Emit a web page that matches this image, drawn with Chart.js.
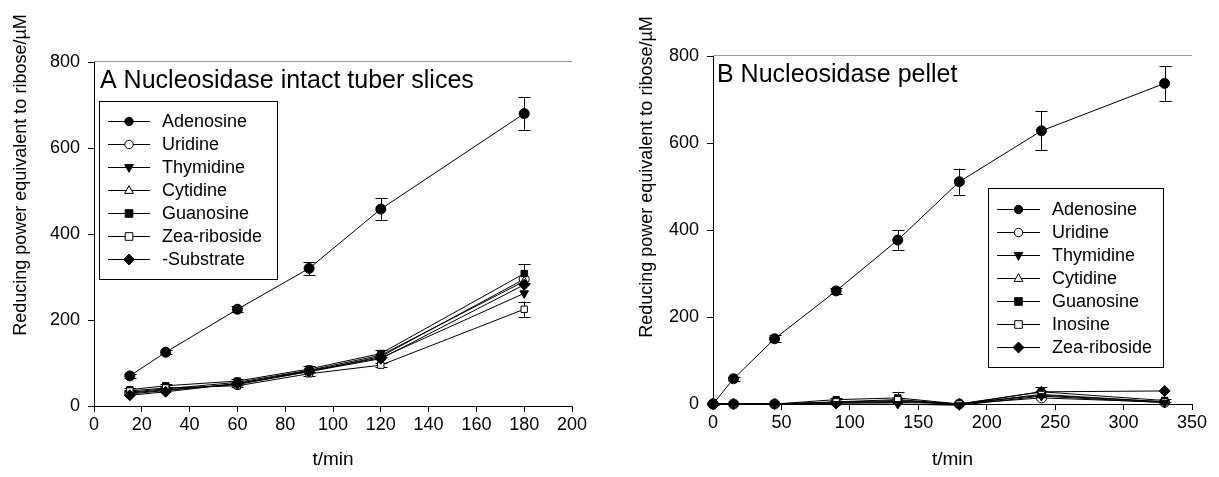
<!DOCTYPE html>
<html>
<head>
<meta charset="utf-8">
<script src="https://cdn.jsdelivr.net/npm/chart.js@4.4.0/dist/chart.umd.min.js"></script>
<style>
  html, body { margin: 0; padding: 0; background: #fff; }
  #wrap { position: relative; width: 1219px; height: 477px; }
  #izq { position: absolute; left: 0; top: 0; }
  #der { position: absolute; left: 600px; top: 0; }
</style>
</head>
<body>
<div id="wrap">
  <canvas id="izq" width="600" height="477"></canvas>
  <canvas id="der" width="619" height="477"></canvas>
</div>
<script>
// ---- Panel A: intact tuber slices ----
const tiemposA = [15, 30, 60, 90, 120, 180];
const etiquetasA = ['Adenosine', 'Uridine', 'Thymidine', 'Cytidine', 'Guanosine', 'Zea-riboside', '-Substrate'];
const adenosinaA = [70, 125, 225, 320, 458, 680];
const adenosinaErrA = [5, 5, 7, 15, 25, 38];
const uridinaA = [30, 38, 50, 80, 115, 295];
const timidinaA = [28, 36, 52, 82, 112, 262];
const citidinaA = [32, 40, 55, 83, 118, 290];
const guanosinaA = [38, 47, 58, 86, 122, 308];
const guanosinaErrA = [4, 4, 4, 6, 8, 22];
const zeaA = [35, 42, 47, 75, 95, 225];
const zeaErrA = [3, 3, 3, 5, 5, 18];
const sinSustratoA = [25, 33, 52, 80, 110, 282];
const ticksXA = [0, 20, 40, 60, 80, 100, 120, 140, 160, 180, 200];
const ticksYA = [0, 200, 400, 600, 800];

// ---- Panel B: pellet ----
const tiemposB = [0, 15, 45, 90, 135, 180, 240, 330];
const etiquetasB = ['Adenosine', 'Uridine', 'Thymidine', 'Cytidine', 'Guanosine', 'Inosine', 'Zea-riboside'];
const adenosinaB = [0, 58, 150, 260, 377, 511, 628, 737];
const adenosinaErrB = [2, 4, 8, 6, 23, 30, 45, 40];
const uridinaB = [0, 0, 0, 4, 8, 0, 14, 4];
const timidinaB = [0, 0, 0, 0, 0, -3, 18, 3];
const citidinaB = [0, 0, 0, 3, 6, 0, 20, 5];
const guanosinaB = [0, 0, 0, 10, 14, 0, 28, 8];
const guanosinaErrB = [0, 0, 0, 4, 14, 0, 10, 3];
const inosinaB = [0, 0, 0, 5, 10, 0, 22, 5];
const zeaB = [0, 0, 0, 2, 4, 0, 28, 30];
const ticksXB = [0, 50, 100, 150, 200, 250, 300, 350];
const ticksYB = [0, 200, 400, 600, 800];

const FUENTE = "'Liberation Sans', Arial, sans-serif";

// marcadores: [estilo, relleno, rotación]
const marcadores = [
    ['circle', '#000', 0],
    ['circle', '#fff', 0],
    ['triangle', '#000', 180],
    ['triangle', '#fff', 0],
    ['rect', '#000', 0],
    ['rect', '#fff', 0],
    ['rectRot', '#000', 0]
];

// orden de dibujo: el menor queda encima
function serie(label, xs, ys, idx, err, orden) {
    const m = marcadores[idx];
    return {
        label: label,
        data: xs.map((x, i) => ({ x: x, y: ys[i] })),
        err: err || null,
        order: orden,
        borderColor: '#000',
        borderWidth: 1,
        pointStyle: m[0],
        pointRotation: m[2],
        pointBackgroundColor: m[1],
        pointBorderColor: '#000',
        pointBorderWidth: 1,
        pointRadius: m[0] === 'rect' ? 4.5 : (m[0] === 'rectRot' ? 5.5 : 5),
        tension: 0,
        fill: false,
        clip: false
    };
}

function dibujarMarcador(ctx, estilo, relleno, rot, x, y, r) {
    ctx.save();
    ctx.translate(x, y);
    ctx.rotate(rot * Math.PI / 180);
    ctx.beginPath();
    if (estilo === 'circle') {
        ctx.arc(0, 0, r, 0, Math.PI * 2);
    } else if (estilo === 'triangle') {
        const h = r * 1.15;
        ctx.moveTo(0, -h);
        ctx.lineTo(h * 0.9, h * 0.6);
        ctx.lineTo(-h * 0.9, h * 0.6);
        ctx.closePath();
    } else if (estilo === 'rect') {
        ctx.rect(-r, -r, 2 * r, 2 * r);
    } else if (estilo === 'rectRot') {
        const d = r * 1.3;
        ctx.moveTo(0, -d); ctx.lineTo(d, 0); ctx.lineTo(0, d); ctx.lineTo(-d, 0);
        ctx.closePath();
    }
    ctx.fillStyle = relleno;
    ctx.fill();
    ctx.lineWidth = 1;
    ctx.strokeStyle = '#000';
    ctx.stroke();
    ctx.restore();
}

// barras de error
const barrasError = {
    id: 'barrasError',
    beforeDatasetsDraw(chart) {
        const ctx = chart.ctx;
        const ys = chart.scales.y;
        ctx.save();
        ctx.strokeStyle = '#000';
        ctx.lineWidth = 1;
        chart.data.datasets.forEach((ds, di) => {
            if (!ds.err) return;
            const meta = chart.getDatasetMeta(di);
            meta.data.forEach((p, i) => {
                const e = ds.err[i];
                if (!e) return;
                const v = ds.data[i].y;
                const y1 = ys.getPixelForValue(v + e);
                const y2 = ys.getPixelForValue(v - e);
                const x = Math.round(p.x) + 0.5;
                ctx.beginPath();
                ctx.moveTo(x, y1); ctx.lineTo(x, y2);
                ctx.moveTo(x - 6, Math.round(y1) + 0.5); ctx.lineTo(x + 6, Math.round(y1) + 0.5);
                ctx.moveTo(x - 6, Math.round(y2) + 0.5); ctx.lineTo(x + 6, Math.round(y2) + 0.5);
                ctx.stroke();
            });
        });
        ctx.restore();
    }
};

// textos, marco superior y leyenda
const decoracion = {
    id: 'decoracion',
    afterDraw(chart, args, o) {
        const ctx = chart.ctx;
        const a = chart.chartArea;
        ctx.save();
        // línea superior gris
        ctx.strokeStyle = '#999';
        ctx.lineWidth = 1;
        ctx.beginPath();
        ctx.moveTo(a.left, Math.round(a.top) - 0.5);
        ctx.lineTo(a.right, Math.round(a.top) - 0.5);
        ctx.stroke();

        ctx.fillStyle = '#000';
        // título del panel
        ctx.font = '25px ' + FUENTE;
        ctx.textAlign = 'left';
        ctx.textBaseline = 'alphabetic';
        ctx.fillText(o.titulo, o.tituloX, o.tituloY);
        // título eje x
        ctx.font = '19px ' + FUENTE;
        ctx.textAlign = 'center';
        ctx.textBaseline = 'middle';
        ctx.fillText('t/min', (a.left + a.right) / 2, o.ejeXY);
        // título eje y
        ctx.font = '18px ' + FUENTE;
        ctx.save();
        ctx.translate(o.ejeYX, o.ejeYY);
        ctx.rotate(-Math.PI / 2);
        ctx.fillText('Reducing power equivalent to ribose/\u00B5M', 0, 0);
        ctx.restore();

        // leyenda
        const L = o.leyenda;
        ctx.strokeStyle = '#000';
        ctx.lineWidth = 1;
        ctx.strokeRect(L.x + 0.5, L.y + 0.5, L.w, L.h);
        ctx.font = '18px ' + FUENTE;
        ctx.textAlign = 'left';
        ctx.textBaseline = 'middle';
        chart.data.datasets.forEach((ds, i) => {
            const y = L.fila0 + i * L.paso;
            ctx.beginPath();
            ctx.moveTo(L.lx1, Math.round(y) + 0.5);
            ctx.lineTo(L.lx2, Math.round(y) + 0.5);
            ctx.stroke();
            const m = marcadores[i];
            dibujarMarcador(ctx, m[0], m[1], m[2], (L.lx1 + L.lx2) / 2, y + 0.5, m[0] === 'rect' ? 3.8 : 4.2);
            ctx.fillStyle = '#000';
            ctx.fillText(ds.label, L.tx, y + 1);
        });
        ctx.restore();
    }
};

function ejes(min, max, ticksX, ticksY, yMax) {
    const comun = {
        border: { color: '#000', width: 1 },
        grid: { display: true, drawOnChartArea: false, drawTicks: true, tickLength: 6, tickColor: '#000' },
        ticks: { color: '#000', font: { family: FUENTE, size: 18 }, autoSkip: false }
    };
    return {
        x: Object.assign({}, comun, {
            type: 'linear', min: min, max: max,
            afterBuildTicks: s => { s.ticks = ticksX.map(v => ({ value: v })); },
            ticks: Object.assign({}, comun.ticks, { padding: 2, maxRotation: 0 })
        }),
        y: Object.assign({}, comun, {
            type: 'linear', min: 0, max: yMax,
            afterBuildTicks: s => { s.ticks = ticksY.map(v => ({ value: v })); },
            ticks: Object.assign({}, comun.ticks, { padding: 8 })
        })
    };
}

function opciones(cfg) {
    const sc = ejes(cfg.xMin, cfg.xMax, cfg.ticksX, cfg.ticksY, 800);
    sc.x.afterFit = s => { s.height = cfg.altoX; };
    sc.y.afterFit = s => { s.width = cfg.anchoY; };
    return {
        responsive: false,
        animation: false,
        devicePixelRatio: 1,
        layout: { padding: { left: 0, right: cfg.derecha, top: cfg.arriba, bottom: 0 } },
        scales: sc,
        plugins: {
            legend: { display: false },
            tooltip: { enabled: false },
            title: { display: false },
            decoracion: cfg.deco
        }
    };
}

new Chart(document.getElementById('izq').getContext('2d'), {
    type: 'line',
    data: {
        datasets: [
            serie(etiquetasA[0], tiemposA, adenosinaA, 0, adenosinaErrA, 7),
            serie(etiquetasA[1], tiemposA, uridinaA, 1, null, 6),
            serie(etiquetasA[2], tiemposA, timidinaA, 2, null, 5),
            serie(etiquetasA[3], tiemposA, citidinaA, 3, null, 4),
            serie(etiquetasA[4], tiemposA, guanosinaA, 4, guanosinaErrA, 3),
            serie(etiquetasA[5], tiemposA, zeaA, 5, zeaErrA, 2),
            serie(etiquetasA[6], tiemposA, sinSustratoA, 6, null, 1)
        ]
    },
    options: opciones({
        xMin: 0, xMax: 200, ticksX: ticksXA, ticksY: ticksYA,
        altoX: 71, anchoY: 94, derecha: 28, arriba: 62,
        deco: {
            titulo: 'A Nucleosidase intact tuber slices', tituloX: 100, tituloY: 88,
            ejeXY: 460, ejeYX: 21, ejeYY: 175,
            leyenda: { x: 99, y: 101, w: 178, h: 178, fila0: 121, paso: 23, lx1: 108, lx2: 150, tx: 162 }
        }
    }),
    plugins: [barrasError, decoracion]
});

new Chart(document.getElementById('der').getContext('2d'), {
    type: 'line',
    data: {
        datasets: [
            serie(etiquetasB[0], tiemposB, adenosinaB, 0, adenosinaErrB, 1),
            serie(etiquetasB[1], tiemposB, uridinaB, 1, null, 7),
            serie(etiquetasB[2], tiemposB, timidinaB, 2, null, 2),
            serie(etiquetasB[3], tiemposB, citidinaB, 3, null, 6),
            serie(etiquetasB[4], tiemposB, guanosinaB, 4, guanosinaErrB, 4),
            serie(etiquetasB[5], tiemposB, inosinaB, 5, null, 3),
            serie(etiquetasB[6], tiemposB, zeaB, 6, null, 5)
        ]
    },
    options: opciones({
        xMin: 0, xMax: 350, ticksX: ticksXB, ticksY: ticksYB,
        altoX: 73, anchoY: 113, derecha: 27, arriba: 56,
        deco: {
            titulo: 'B Nucleosidase pellet', tituloX: 117, tituloY: 82,
            ejeXY: 460, ejeYX: 47, ejeYY: 177,
            leyenda: { x: 388, y: 188, w: 175, h: 179, fila0: 209, paso: 23, lx1: 397, lx2: 440, tx: 452 }
        }
    }),
    plugins: [barrasError, decoracion]
});
</script>
</body>
</html>
